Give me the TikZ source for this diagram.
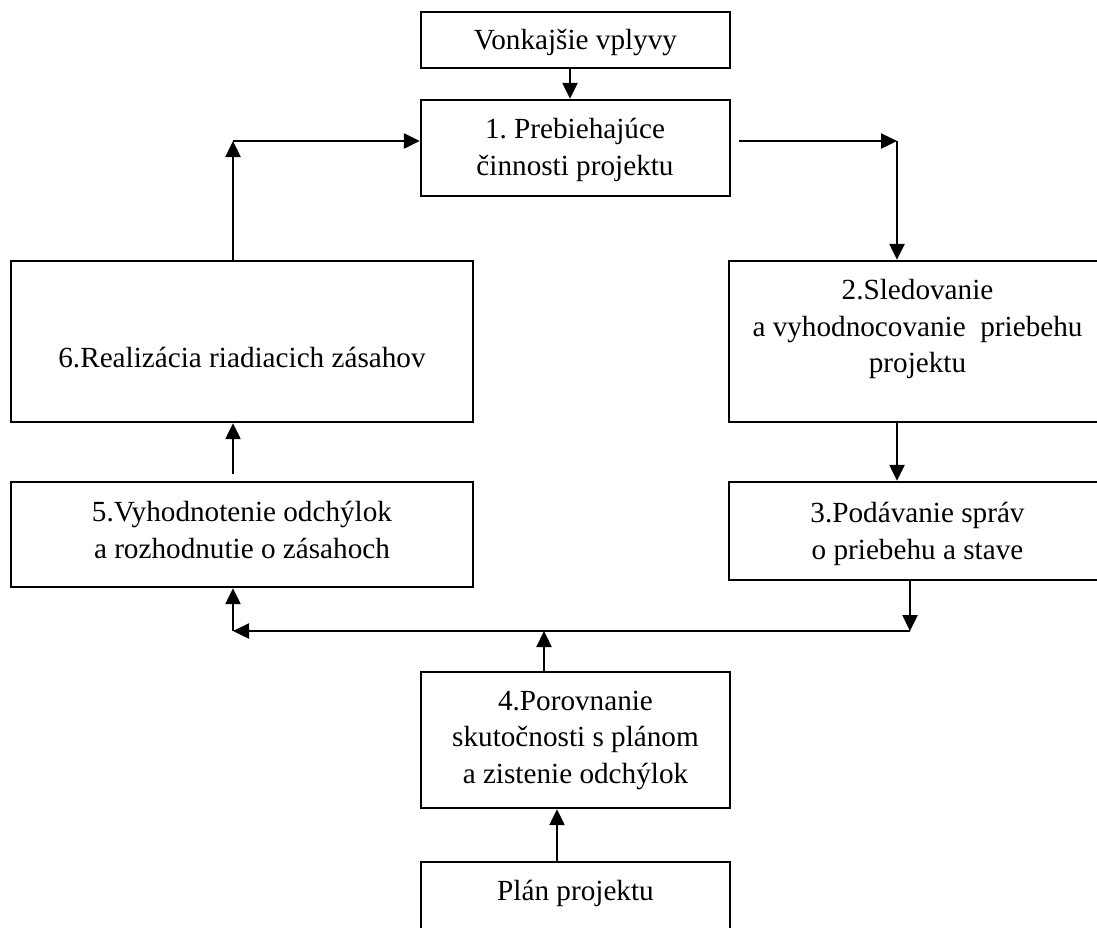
\documentclass[tikz,border=0pt]{standalone}
\usepackage{fontspec}
\setmainfont{Liberation Serif}
\usetikzlibrary{arrows.meta}
\frenchspacing
\begin{document}
\begin{tikzpicture}[x=1pt,y=-1pt,
  box/.style={draw, line width=2.4pt, rectangle, inner sep=0pt},
  txt/.style={align=center, inner sep=0pt, font=\fontsize{29.2}{36.5}\selectfont},
  arr/.style={line width=2.4pt, -{Triangle[length=16pt,width=15pt]}}]
\useasboundingbox (0,0) rectangle (1097,927);
\clip (0,0) rectangle (1097,927);
\fill[white] (0,0) rectangle (1097,927);
% boxes
\node[box, minimum width=309pt, minimum height=56pt]  (vonk) at (575.5,40) {};
\node[box, minimum width=309pt, minimum height=96pt]  (b1)   at (575.5,148) {};
\node[box, minimum width=462pt, minimum height=161pt] (b6)   at (242,341.5) {};
\node[box, minimum width=377pt, minimum height=161pt] (b2)   at (917.5,341.5) {};
\node[box, minimum width=377pt, minimum height=98pt]  (b3)   at (917.5,531) {};
\node[box, minimum width=462pt, minimum height=105pt] (b5)   at (242,534.5) {};
\node[box, minimum width=309pt, minimum height=136pt] (b4)   at (575.5,740) {};
\node[box, minimum width=309pt, minimum height=98pt]  (plan) at (575.5,911) {};
% texts
\node[txt] (t0) at (575.5,42)  {Vonkajšie vplyvy};
\node[txt] (t1) at (575,150)   {1. Prebiehajúce\\činnosti projektu};
\node[txt] (t6) at (242,358)   {6.Realizácia riadiacich zásahov};
\node[txt] (t2) at (917.5,329) {2.Sledovanie\\a vyhodnocovanie~ priebehu\\projektu};
\node[txt] (t3) at (917.5,534) {3.Podávanie správ\\o priebehu a stave};
\node[txt] (t5) at (242,530)   {5.Vyhodnotenie odchýlok\\a rozhodnutie o zásahoch};
\node[txt] (t4) at (575.5,740) {4.Porovnanie\\skutočnosti s plánom\\a zistenie odchýlok};
\node[txt] (tp) at (575.5,893) {Plán projektu};
% routing points
\coordinate (xA)  at (570,0);
\coordinate (kL)  at (233,141);
\coordinate (kRs) at (739,141);
\coordinate (kR)  at (897,141);
\coordinate (kB)  at (910,631);
\coordinate (kBL) at (233,631);
\coordinate (kM)  at (544,631);
\coordinate (xP)  at (557,0);
\coordinate (k56) at (233,474);
% connectors
\draw[arr] (vonk.south -| xA) -- (b1.north -| xA);
\draw[arr] (b6.north -| kL) -- (kL);
\draw[arr] (kL) -- (b1.west |- kL);
\draw[arr] (kRs) -- (kR);
\draw[arr] (kR) -- (b2.north -| kR);
\draw[arr] (b2.south -| kR) -- (b3.north -| kR);
\draw[arr] (b3.south -| kB) -- (kB);
\draw[arr] (kB) -- (kBL);
\draw[arr] (kBL) -- (b5.south -| kBL);
\draw[arr] (b4.north -| kM) -- (kM);
\draw[arr] (plan.north -| xP) -- (b4.south -| xP);
\draw[arr] (k56) -- (b6.south -| k56);
\end{tikzpicture}
\end{document}
